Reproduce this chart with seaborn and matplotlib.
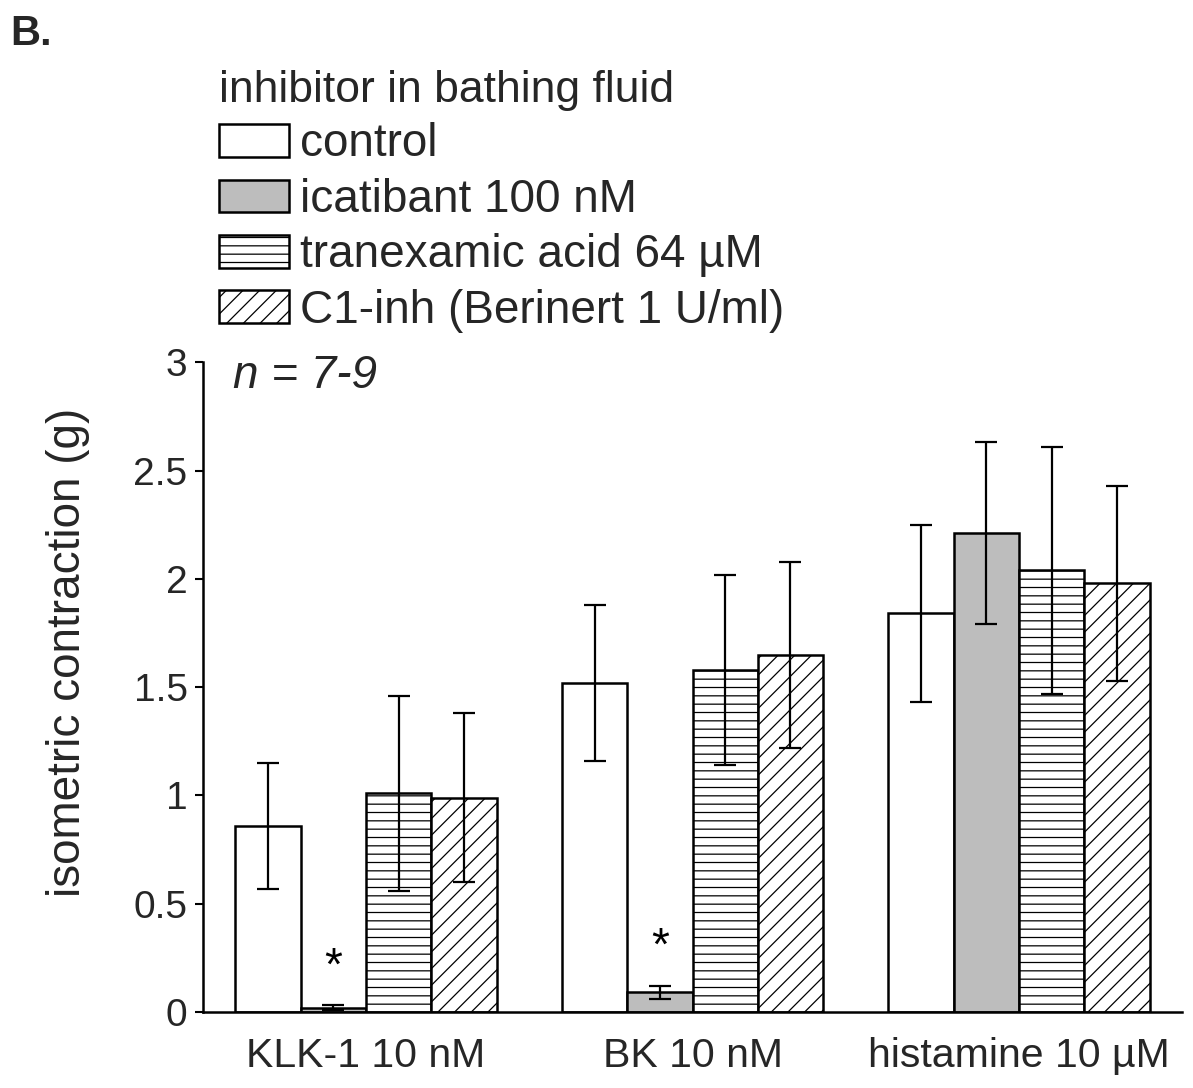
import numpy as np
import pandas as pd
import matplotlib
matplotlib.use("Agg")
import matplotlib.pyplot as plt
import seaborn as sns

# ---- data ----
stimuli = ["KLK-1 10 nM", "BK 10 nM", "histamine 10 µM"]
inhibitors = ["control", "icatibant 100 nM", "tranexamic acid 64 µM",
              "C1-inh (Berinert 1 U/ml)"]
control_mean = [0.86, 1.52, 1.84]
control_err = [0.29, 0.36, 0.41]
icatibant_mean = [0.02, 0.09, 2.21]
icatibant_err = [0.01, 0.03, 0.42]
tranexamic_mean = [1.01, 1.58, 2.04]
tranexamic_err = [0.45, 0.44, 0.57]
c1inh_mean = [0.99, 1.65, 1.98]
c1inh_err = [0.39, 0.43, 0.45]
significant = [("KLK-1 10 nM", "icatibant 100 nM"), ("BK 10 nM", "icatibant 100 nM")]
ytick_values = [0, 0.5, 1, 1.5, 2, 2.5, 3]
ytick_labels = ["0", "0.5", "1", "1.5", "2", "2.5", "3"]

means = [control_mean, icatibant_mean, tranexamic_mean, c1inh_mean]
errs = [control_err, icatibant_err, tranexamic_err, c1inh_err]
rows = []
for inh, m_list, e_list in zip(inhibitors, means, errs):
    for s, m, e in zip(stimuli, m_list, e_list):
        rows.append({"stimulus": s, "inhibitor": inh, "mean": m, "err": e})
df = pd.DataFrame(rows)

# ---- style ----
sns.set_style("ticks")
plt.rcParams["font.family"] = ["Liberation Sans", "DejaVu Sans"]
plt.rcParams["hatch.linewidth"] = 0.9
FS_TICK = 28
FS_XTICK = 29.5
FS_TEXT = 33

fig, ax = plt.subplots(figsize=(11.93, 10.88), dpi=100)
fig.subplots_adjust(left=0.170, right=0.991, bottom=0.0699, top=0.667)

palette = {"control": "white", "icatibant 100 nM": "#bdbdbd",
           "tranexamic acid 64 µM": "white", "C1-inh (Berinert 1 U/ml)": "white"}
hatches = {"control": "", "icatibant 100 nM": "",
           "tranexamic acid 64 µM": "--", "C1-inh (Berinert 1 U/ml)": "//"}

sns.barplot(data=df, x="stimulus", y="mean", hue="inhibitor", order=stimuli,
            hue_order=inhibitors, palette=palette, saturation=1,
            edgecolor="black", linewidth=1.8, errorbar=None, width=0.8,
            legend=False, ax=ax)

lookup = df.set_index(["stimulus", "inhibitor"])
for cont, inh in zip(ax.containers, inhibitors):
    for patch in cont.patches:
        patch.set_hatch(hatches[inh])
        xc = patch.get_x() + patch.get_width() / 2
        stim = stimuli[int(round(xc))]
        m = lookup.loc[(stim, inh), "mean"]
        e = lookup.loc[(stim, inh), "err"]
        ax.errorbar(xc, m, yerr=e, fmt="none", ecolor="black",
                    elinewidth=1.6, capsize=8, capthick=1.6, zorder=5)
        if (stim, inh) in significant:
            ax.text(xc, m + e + 0.12, "*", ha="center", va="baseline",
                    fontsize=FS_TEXT, color="black")

ax.set_ylim(0, 3)
ax.set_xlim(-0.5, 2.5)
ax.set_yticks(ytick_values)
ax.set_yticklabels(ytick_labels)
ax.tick_params(axis="y", length=6, width=1.5, pad=5, labelsize=FS_TICK, color="black")
ax.tick_params(axis="x", length=0, pad=18, labelsize=FS_XTICK)
ax.set_xlabel("")
ax.set_ylabel("isometric contraction (g)", fontsize=FS_TEXT)
ax.yaxis.set_label_coords(-0.115, 0.553)
sns.despine(ax=ax)
for sp in ["left", "bottom"]:
    ax.spines[sp].set_linewidth(1.8)
    ax.spines[sp].set_color("black")

ax.text(0.031, 0.96, "n = 7-9", transform=ax.transAxes, ha="left",
        va="baseline", fontsize=FS_TEXT, style="italic")

leg = ax.legend(handles=list(ax.containers), labels=inhibitors,
                title="inhibitor in bathing fluid", loc="upper left",
                bbox_to_anchor=(219 / 1193, 1 - 70 / 1088),
                bbox_transform=fig.transFigure, frameon=False,
                fontsize=FS_TEXT, title_fontsize=32, alignment="left",
                handlelength=1.53, handleheight=0.72, handletextpad=0.24,
                labelspacing=0.25, borderpad=0, borderaxespad=0)

fig.text(10 / 1193, 1 - 45 / 1088, "B.", fontsize=30, fontweight="bold",
         ha="left", va="baseline")

fig.savefig("out.png", dpi=100)
